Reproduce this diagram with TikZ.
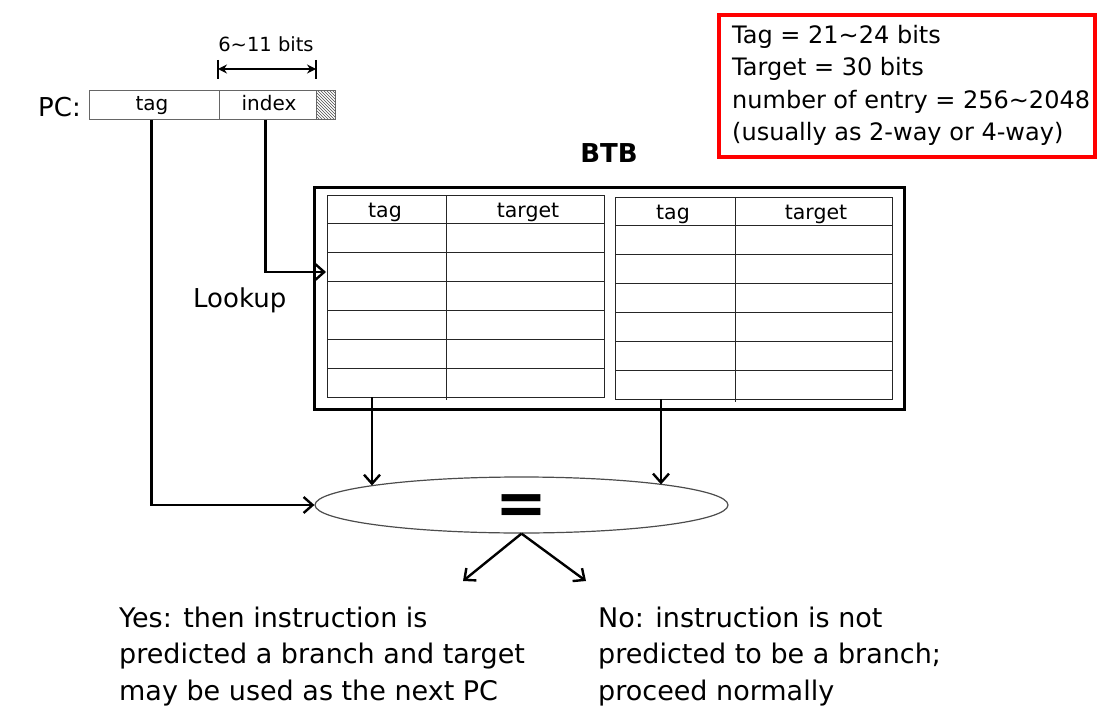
\documentclass[tikz,border=0pt]{standalone}
\usepackage{fontspec}
\setmainfont{DejaVu Sans}
\usetikzlibrary{arrows.meta,patterns,shapes.geometric}
\begin{document}
\begin{tikzpicture}[x=1pt,y=-1pt,
  conn/.style={line width=2.4pt,-{Straight Barb[length=9pt,width=16pt]}},
  dimarrow/.style={line width=2.2pt,{Stealth[length=9pt,width=9pt]}-{Stealth[length=9pt,width=9pt]}},
  tline/.style={line width=1pt,draw=black!85},
  field/.style={draw=black!60,line width=1pt,minimum height=29pt,inner sep=0pt,anchor=north west},
  lbl/.style={inner sep=0pt,anchor=base},
  big/.style={font=\fontsize{26}{31}\selectfont},
]
\useasboundingbox (0,0) rectangle (1097,706);

% PC register
\node[lbl,anchor=base west,big] (pclabel) at (38,117) {PC:};
\node[field,minimum width=130pt] (pctag) at (89,90) {};
\node[field,minimum width=97pt] (pcindex) at (219,90) {};
\node[field,minimum width=19pt,pattern=north west lines,pattern color=black!70] (pchatch) at (316,90) {};
\node[lbl,font=\fontsize{20}{24}\selectfont] (tagtxt) at (152,111) {tag};
\node[lbl,font=\fontsize{20}{24}\selectfont] (indextxt) at (269,111) {index};

% 6~11 bits dimension
\coordinate (d1t) at (218,60); \coordinate (d1b) at (218,79);
\coordinate (d2t) at (316,60); \coordinate (d2b) at (316,79);
\draw[line width=2.2pt] (d1t) -- (d1b);
\draw[line width=2.2pt] (d2t) -- (d2b);
\coordinate (dl) at (218,69); \coordinate (dr) at (316,69);
\draw[dimarrow] (dl) -- (dr);
\node[lbl,font=\fontsize{19.5}{24}\selectfont] (bitstxt) at (266,52) {6\textasciitilde11 bits};

% info box
\node[draw=red,line width=4pt,minimum width=376pt,minimum height=142pt,anchor=north west,inner sep=0pt] (info) at (717,13) {};
\node[anchor=north west,align=left,inner sep=0pt,font=\fontsize{24}{32.5}\selectfont] (infotxt) at (732,25)
 {Tag = 21\textasciitilde24 bits\\Target = 30 bits\\number of entry = 256\textasciitilde2048\\(usually as 2-way or 4-way)};

% BTB
\node[lbl,font=\bfseries\fontsize{26}{30}\selectfont] (btbtitle) at (609,162) {BTB};
\node[draw,line width=3pt,minimum width=590pt,minimum height=222pt,anchor=north west,inner sep=0pt] (btb) at (313,186) {};

% left table
\draw[tline] (327,195) rectangle (604,397);
\foreach \i in {1,...,6} \draw[tline] (327,{195+\i*28.857}) -- (604,{195+\i*28.857});
\draw[tline] (446,195) -- (446,400);
\node[lbl,font=\fontsize{20.5}{24}\selectfont] (lhtag) at (385,217) {tag};
\node[lbl,font=\fontsize{20.5}{24}\selectfont] (lhtarget) at (528,217) {target};

% right table
\draw[tline] (615,197) rectangle (892,399);
\foreach \i in {1,...,6} \draw[tline] (615,{197+\i*28.857}) -- (892,{197+\i*28.857});
\draw[tline] (735,197) -- (735,402);
\node[lbl,font=\fontsize{20.5}{24}\selectfont] (rhtag) at (673,219) {tag};
\node[lbl,font=\fontsize{20.5}{24}\selectfont] (rhtarget) at (816,219) {target};

% Lookup
\node[lbl,anchor=base west,big] (lookup) at (193,307) {Lookup};

% comparator
\node[ellipse,draw=black!70,line width=1.2pt,minimum width=413pt,minimum height=56pt,inner sep=0pt] (eq) at (521.5,505) {};
\node[inner sep=0pt,font=\bfseries\fontsize{62}{62}\selectfont] (eqsign) at (521,510) {=};

% connectors
\coordinate (lookin) at (326,272);
\draw[conn] ([xshift=-3pt]pctag.south) |- (eq.west);
\draw[conn] ([xshift=-2.5pt]pcindex.south) |- (lookin);
\coordinate (lsrc) at (372,397); \coordinate (leq) at (372,485.5);
\coordinate (rsrc) at (661,399); \coordinate (req) at (661,484.4);
\draw[conn] (lsrc) -- (leq);
\draw[conn] (rsrc) -- (req);
\coordinate (yesend) at (463,581);
\coordinate (noend) at (586,581);
\draw[conn] (eq.south) -- (yesend);
\draw[conn] (eq.south) -- (noend);

% outcome texts
\node[anchor=north west,align=left,inner sep=0pt,font=\fontsize{27}{36.5}\selectfont] (yes) at (119,606.5)
 {Yes: then instruction is\\predicted a branch and target\\may be used as the next PC};
\node[anchor=north west,align=left,inner sep=0pt,font=\fontsize{27}{36.5}\selectfont] (no) at (598,606.5)
 {No: instruction is not\\predicted to be a branch;\\proceed normally};
\end{tikzpicture}
\end{document}
